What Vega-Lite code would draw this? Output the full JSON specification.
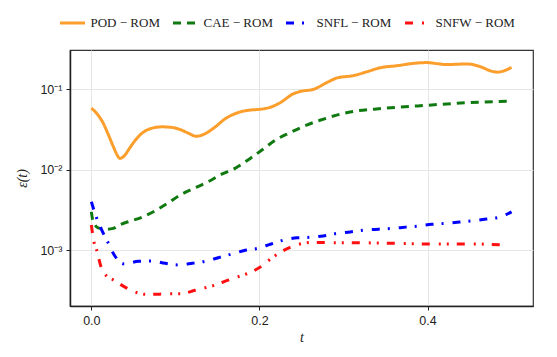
{
  "$schema": "https://vega.github.io/schema/vega-lite/v6.json",
  "autosize": "none",
  "width": 463,
  "height": 256,
  "padding": {"left": 70, "top": 50, "right": 24, "bottom": 51},
  "background": "white",
  "config": {
    "view": {"stroke": "#333333", "strokeWidth": 1.2},
    "axis": {"labelFont": "Liberation Sans", "labelFontSize": 12.5, "labelColor": "#222", "domainColor": "#222", "domainWidth": 1.5, "tickColor": "#222", "tickSize": 4, "tickWidth": 1, "gridColor": "#e6e6e6", "gridWidth": 1, "titleFont": "Liberation Serif", "titleFontStyle": "italic", "titleFontWeight": "normal", "titleFontSize": 14, "titleColor": "#222"}
  },
  "datasets": {
    "d": [
      {"series": "POD − ROM", "t": 0.0, "e": 0.058},
      {"series": "POD − ROM", "t": 0.007, "e": 0.049},
      {"series": "POD − ROM", "t": 0.014, "e": 0.038},
      {"series": "POD − ROM", "t": 0.020, "e": 0.0275},
      {"series": "POD − ROM", "t": 0.026, "e": 0.0195},
      {"series": "POD − ROM", "t": 0.030, "e": 0.0157},
      {"series": "POD − ROM", "t": 0.034, "e": 0.0138},
      {"series": "POD − ROM", "t": 0.039, "e": 0.0148},
      {"series": "POD − ROM", "t": 0.046, "e": 0.0188},
      {"series": "POD − ROM", "t": 0.052, "e": 0.023},
      {"series": "POD − ROM", "t": 0.058, "e": 0.027},
      {"series": "POD − ROM", "t": 0.070, "e": 0.0322},
      {"series": "POD − ROM", "t": 0.084, "e": 0.034},
      {"series": "POD − ROM", "t": 0.095, "e": 0.0335},
      {"series": "POD − ROM", "t": 0.106, "e": 0.0314},
      {"series": "POD − ROM", "t": 0.115, "e": 0.0285},
      {"series": "POD − ROM", "t": 0.125, "e": 0.026},
      {"series": "POD − ROM", "t": 0.135, "e": 0.0278},
      {"series": "POD − ROM", "t": 0.145, "e": 0.0325},
      {"series": "POD − ROM", "t": 0.161, "e": 0.0440},
      {"series": "POD − ROM", "t": 0.177, "e": 0.052},
      {"series": "POD − ROM", "t": 0.190, "e": 0.055},
      {"series": "POD − ROM", "t": 0.200, "e": 0.056},
      {"series": "POD − ROM", "t": 0.212, "e": 0.059},
      {"series": "POD − ROM", "t": 0.225, "e": 0.068},
      {"series": "POD − ROM", "t": 0.240, "e": 0.087},
      {"series": "POD − ROM", "t": 0.250, "e": 0.094},
      {"series": "POD − ROM", "t": 0.264, "e": 0.099},
      {"series": "POD − ROM", "t": 0.280, "e": 0.12},
      {"series": "POD − ROM", "t": 0.292, "e": 0.137},
      {"series": "POD − ROM", "t": 0.312, "e": 0.147},
      {"series": "POD − ROM", "t": 0.328, "e": 0.164},
      {"series": "POD − ROM", "t": 0.344, "e": 0.184},
      {"series": "POD − ROM", "t": 0.364, "e": 0.195},
      {"series": "POD − ROM", "t": 0.383, "e": 0.208},
      {"series": "POD − ROM", "t": 0.399, "e": 0.213},
      {"series": "POD − ROM", "t": 0.412, "e": 0.206},
      {"series": "POD − ROM", "t": 0.423, "e": 0.201},
      {"series": "POD − ROM", "t": 0.435, "e": 0.203},
      {"series": "POD − ROM", "t": 0.447, "e": 0.205},
      {"series": "POD − ROM", "t": 0.463, "e": 0.189},
      {"series": "POD − ROM", "t": 0.475, "e": 0.168},
      {"series": "POD − ROM", "t": 0.483, "e": 0.162},
      {"series": "POD − ROM", "t": 0.490, "e": 0.167},
      {"series": "POD − ROM", "t": 0.500, "e": 0.186},

      {"series": "CAE − ROM", "t": 0.0, "e": 0.0030},
      {"series": "CAE − ROM", "t": 0.0016, "e": 0.0024},
      {"series": "CAE − ROM", "t": 0.008, "e": 0.0019},
      {"series": "CAE − ROM", "t": 0.018, "e": 0.00183},
      {"series": "CAE − ROM", "t": 0.026, "e": 0.00187},
      {"series": "CAE − ROM", "t": 0.035, "e": 0.0021},
      {"series": "CAE − ROM", "t": 0.044, "e": 0.00226},
      {"series": "CAE − ROM", "t": 0.060, "e": 0.00257},
      {"series": "CAE − ROM", "t": 0.076, "e": 0.0031},
      {"series": "CAE − ROM", "t": 0.092, "e": 0.0039},
      {"series": "CAE − ROM", "t": 0.108, "e": 0.0050},
      {"series": "CAE − ROM", "t": 0.123, "e": 0.0059},
      {"series": "CAE − ROM", "t": 0.139, "e": 0.0071},
      {"series": "CAE − ROM", "t": 0.155, "e": 0.0088},
      {"series": "CAE − ROM", "t": 0.171, "e": 0.0104},
      {"series": "CAE − ROM", "t": 0.189, "e": 0.0138},
      {"series": "CAE − ROM", "t": 0.203, "e": 0.0175},
      {"series": "CAE − ROM", "t": 0.219, "e": 0.0233},
      {"series": "CAE − ROM", "t": 0.2365, "e": 0.0288},
      {"series": "CAE − ROM", "t": 0.256, "e": 0.0357},
      {"series": "CAE − ROM", "t": 0.272, "e": 0.041},
      {"series": "CAE − ROM", "t": 0.308, "e": 0.052},
      {"series": "CAE − ROM", "t": 0.347, "e": 0.0575},
      {"series": "CAE − ROM", "t": 0.400, "e": 0.063},
      {"series": "CAE − ROM", "t": 0.447, "e": 0.0677},
      {"series": "CAE − ROM", "t": 0.500, "e": 0.071},

      {"series": "SNFL − ROM", "t": 0.0, "e": 0.0040},
      {"series": "SNFL − ROM", "t": 0.0064, "e": 0.00249},
      {"series": "SNFL − ROM", "t": 0.0124, "e": 0.00178},
      {"series": "SNFL − ROM", "t": 0.020, "e": 0.00124},
      {"series": "SNFL − ROM", "t": 0.028, "e": 0.00085},
      {"series": "SNFL − ROM", "t": 0.038, "e": 0.00068},
      {"series": "SNFL − ROM", "t": 0.056, "e": 0.00073},
      {"series": "SNFL − ROM", "t": 0.071, "e": 0.00074},
      {"series": "SNFL − ROM", "t": 0.088, "e": 0.00069},
      {"series": "SNFL − ROM", "t": 0.103, "e": 0.00066},
      {"series": "SNFL − ROM", "t": 0.120, "e": 0.00069},
      {"series": "SNFL − ROM", "t": 0.135, "e": 0.00073},
      {"series": "SNFL − ROM", "t": 0.151, "e": 0.00081},
      {"series": "SNFL − ROM", "t": 0.167, "e": 0.00090},
      {"series": "SNFL − ROM", "t": 0.181, "e": 0.00099},
      {"series": "SNFL − ROM", "t": 0.198, "e": 0.00106},
      {"series": "SNFL − ROM", "t": 0.213, "e": 0.00119},
      {"series": "SNFL − ROM", "t": 0.229, "e": 0.00134},
      {"series": "SNFL − ROM", "t": 0.245, "e": 0.00143},
      {"series": "SNFL − ROM", "t": 0.260, "e": 0.00145},
      {"series": "SNFL − ROM", "t": 0.276, "e": 0.00151},
      {"series": "SNFL − ROM", "t": 0.292, "e": 0.00162},
      {"series": "SNFL − ROM", "t": 0.308, "e": 0.00169},
      {"series": "SNFL − ROM", "t": 0.325, "e": 0.00178},
      {"series": "SNFL − ROM", "t": 0.342, "e": 0.00183},
      {"series": "SNFL − ROM", "t": 0.358, "e": 0.00187},
      {"series": "SNFL − ROM", "t": 0.374, "e": 0.00194},
      {"series": "SNFL − ROM", "t": 0.389, "e": 0.0020},
      {"series": "SNFL − ROM", "t": 0.405, "e": 0.0021},
      {"series": "SNFL − ROM", "t": 0.421, "e": 0.00216},
      {"series": "SNFL − ROM", "t": 0.438, "e": 0.00224},
      {"series": "SNFL − ROM", "t": 0.454, "e": 0.00233},
      {"series": "SNFL − ROM", "t": 0.470, "e": 0.00244},
      {"series": "SNFL − ROM", "t": 0.486, "e": 0.00258},
      {"series": "SNFL − ROM", "t": 0.500, "e": 0.0030},

      {"series": "SNFW − ROM", "t": 0.0, "e": 0.00206},
      {"series": "SNFW − ROM", "t": 0.003, "e": 0.00128},
      {"series": "SNFW − ROM", "t": 0.0064, "e": 0.0010},
      {"series": "SNFW − ROM", "t": 0.011, "e": 0.00065},
      {"series": "SNFW − ROM", "t": 0.018, "e": 0.00048},
      {"series": "SNFW − ROM", "t": 0.026, "e": 0.00043},
      {"series": "SNFW − ROM", "t": 0.040, "e": 0.00035},
      {"series": "SNFW − ROM", "t": 0.054, "e": 0.00030},
      {"series": "SNFW − ROM", "t": 0.066, "e": 0.000284},
      {"series": "SNFW − ROM", "t": 0.081, "e": 0.000286},
      {"series": "SNFW − ROM", "t": 0.096, "e": 0.00029},
      {"series": "SNFW − ROM", "t": 0.107, "e": 0.00029},
      {"series": "SNFW − ROM", "t": 0.1235, "e": 0.00032},
      {"series": "SNFW − ROM", "t": 0.137, "e": 0.000347},
      {"series": "SNFW − ROM", "t": 0.147, "e": 0.00037},
      {"series": "SNFW − ROM", "t": 0.161, "e": 0.00042},
      {"series": "SNFW − ROM", "t": 0.177, "e": 0.00048},
      {"series": "SNFW − ROM", "t": 0.187, "e": 0.00052},
      {"series": "SNFW − ROM", "t": 0.201, "e": 0.00062},
      {"series": "SNFW − ROM", "t": 0.214, "e": 0.00079},
      {"series": "SNFW − ROM", "t": 0.223, "e": 0.00092},
      {"series": "SNFW − ROM", "t": 0.2365, "e": 0.00109},
      {"series": "SNFW − ROM", "t": 0.252, "e": 0.00122},
      {"series": "SNFW − ROM", "t": 0.262, "e": 0.00125},
      {"series": "SNFW − ROM", "t": 0.278, "e": 0.00125},
      {"series": "SNFW − ROM", "t": 0.294, "e": 0.00124},
      {"series": "SNFW − ROM", "t": 0.320, "e": 0.00124},
      {"series": "SNFW − ROM", "t": 0.362, "e": 0.00122},
      {"series": "SNFW − ROM", "t": 0.404, "e": 0.0012},
      {"series": "SNFW − ROM", "t": 0.446, "e": 0.0012},
      {"series": "SNFW − ROM", "t": 0.470, "e": 0.00119},
      {"series": "SNFW − ROM", "t": 0.495, "e": 0.00116}
    ]
  },
  "data": {"name": "d"},
  "mark": {"type": "line", "strokeWidth": 3, "interpolate": "monotone", "clip": true},
  "encoding": {
    "x": {
      "field": "t", "type": "quantitative",
      "scale": {"domain": [-0.0254, 0.5255], "nice": false, "zero": false},
      "axis": {"values": [0, 0.2, 0.4], "format": ".1f", "title": "t", "grid": true, "labelPadding": 4, "titlePadding": 4}
    },
    "y": {
      "field": "e", "type": "quantitative",
      "scale": {"type": "log", "domain": [0.000204, 0.305], "nice": false},
      "axis": {"values": [0.001, 0.01, 0.1], "labelExpr": "datum.value < 0.005 ? '10⁻³' : datum.value < 0.05 ? '10⁻²' : '10⁻¹'", "title": "ε(t)", "grid": true, "labelPadding": 4, "titlePadding": 10}
    },
    "color": {
      "field": "series", "type": "nominal",
      "scale": {"domain": ["POD − ROM", "CAE − ROM", "SNFL − ROM", "SNFW − ROM"], "range": ["#FB9E2C", "#107A10", "#0000FF", "#FF1010"]},
      "legend": {"title": null, "orient": "none", "legendX": -11.5, "legendY": -41, "direction": "horizontal", "columns": 4, "symbolType": "stroke", "symbolSize": 625, "symbolStrokeWidth": 3, "labelFont": "Liberation Serif", "labelFontSize": 13, "labelColor": "#222", "labelOffset": 4, "columnPadding": 6, "padding": 0}
    },
    "strokeDash": {
      "field": "series", "type": "nominal",
      "scale": {"domain": ["POD − ROM", "CAE − ROM", "SNFL − ROM", "SNFW − ROM"], "range": [[1, 0], [8, 6], [8, 8, 2, 9], [8, 9, 2, 6, 2, 8]]},
      "legend": {"title": null, "orient": "none", "legendX": -11.5, "legendY": -41, "direction": "horizontal", "columns": 4, "symbolType": "stroke", "symbolSize": 625, "symbolStrokeWidth": 3, "labelFont": "Liberation Serif", "labelFontSize": 13, "labelColor": "#222", "labelOffset": 4, "columnPadding": 6, "padding": 0}
    }
  }
}
